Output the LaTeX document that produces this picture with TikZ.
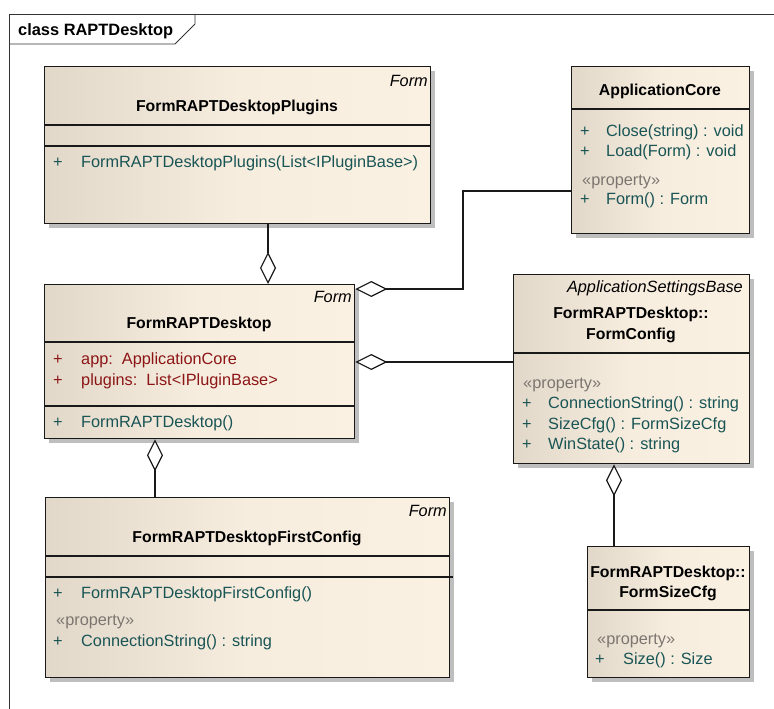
\documentclass[tikz,border=0pt]{standalone}
\usepackage{fontspec}
\setmainfont{Liberation Sans}
\usetikzlibrary{arrows.meta,calc}
\definecolor{opc}{RGB}{25,85,85}
\definecolor{atc}{RGB}{140,22,22}
\definecolor{stc}{RGB}{125,118,112}
\definecolor{fillL}{RGB}{226,216,202}
\definecolor{fillM}{RGB}{247,237,223}
\definecolor{fillR}{RGB}{251,241,227}
\definecolor{shc}{RGB}{190,190,190}
\newcommand\umlfs{\fontsize{16.3}{19}\selectfont}
\newcommand\umlts{\fontsize{15.8}{19}\selectfont}
\newcommand\umlbox[5]{%
  \fill[shc] (#2+5,#3+5) rectangle (#4+5,#5+5);
  \node[classbox, minimum width={(#4-#2)*1pt}, minimum height={(#5-#3)*1pt}] (#1) at (#2,#3) {};}
\begin{document}
\begin{tikzpicture}[x=1pt,y=-1pt,
  classbox/.style={draw=black!90, line width=1.3pt, anchor=north west, inner sep=0pt,
    left color=fillL, right color=fillR, middle color=fillM},
  itm/.style={anchor=base west, inner sep=0pt, font=\umlfs},
  ttl/.style={anchor=base, inner sep=0pt, font=\umlts\bfseries},
  stereo/.style={anchor=base east, inner sep=0pt, font=\umlfs\itshape},
  sep/.style={line width=1.2pt, draw=black!90},
  agg/.style={line width=1.2pt, draw=black!90, -{Diamond[open, length=32pt, width=16pt, line width=1.2pt]}},
  frm/.style={line width=0.9pt, draw=black!80}]
\useasboundingbox (0,0) rectangle (774,709);
% frame
\draw[frm] (9,709) -- (9,14) -- (774,14);
\draw[frm] (9,44) -- (175,44) -- (195,24) -- (195,14);
\node[anchor=base west, inner sep=0pt, font=\fontsize{16.4}{19}\selectfont\bfseries] (frametitle) at (18,35.5) {class RAPTDesktop};

% boxes
\umlbox{plugins}{44}{66}{430}{223}
\umlbox{desk}{44}{284}{354}{438}
\umlbox{appcore}{571}{66}{749}{233}
\umlbox{formconfig}{513}{274}{749}{463}
\umlbox{firstcfg}{45}{497}{449}{677}
\umlbox{sizecfg}{587}{546}{749}{677}

% compartments
\draw[sep] ($(plugins.north west)+(0,59)$) -- ($(plugins.north east)+(0,59)$);
\draw[sep] ($(plugins.north west)+(0,80)$) -- ($(plugins.north east)+(0,80)$);
\draw[sep] ($(desk.north west)+(0,58)$) -- ($(desk.north east)+(0,58)$);
\draw[sep] ($(desk.north west)+(0,122)$) -- ($(desk.north east)+(0,122)$);
\draw[sep] ($(appcore.north west)+(0,43)$) -- ($(appcore.north east)+(0,43)$);
\draw[sep] ($(formconfig.north west)+(0,79)$) -- ($(formconfig.north east)+(0,79)$);
\draw[sep] ($(firstcfg.north west)+(0,59)$) -- ($(firstcfg.north east)+(0,59)$);
\draw[sep] ($(firstcfg.north west)+(0,80)$) -- ($(firstcfg.north east)+(3,80)$);
\draw[sep] ($(sizecfg.north west)+(0,64)$) -- ($(sizecfg.north east)+(0,64)$);

% FormRAPTDesktopPlugins
\node[stereo] (pst) at (428,86) {Form};
\node[ttl] (pttl) at (237,111.5) {FormRAPTDesktopPlugins};
\node[itm,opc] (pm1a) at (53,167.5) {+};
\node[itm,opc] (pm1b) at (81,167.5) {FormRAPTDesktopPlugins(List<IPluginBase>)};

% FormRAPTDesktop
\node[stereo] (dst) at (352,302) {Form};
\node[ttl] (dttl) at (199,328) {FormRAPTDesktop};
\node[itm,atc] (da1a) at (53,364.5) {+};
\node[itm,atc] (da1b) at (81,364.5) {app:\ \ ApplicationCore};
\node[itm,atc] (da2a) at (53,385.5) {+};
\node[itm,atc] (da2b) at (81,385.5) {plugins:\ \ List<IPluginBase>};
\node[itm,opc] (dm1a) at (53,427.5) {+};
\node[itm,opc] (dm1b) at (81,427.5) {FormRAPTDesktop()};

% ApplicationCore
\node[ttl] (attl) at (660,95.5) {ApplicationCore};
\node[itm,opc] (am1a) at (580,136.5) {+};
\node[itm,opc] (am1b) at (606,136.5) {Close(string) : void};
\node[itm,opc] (am2a) at (580,156.5) {+};
\node[itm,opc] (am2b) at (606,156.5) {Load(Form) : void};
\node[itm,stc] (aprop) at (582,185.5) {«property»};
\node[itm,opc] (am3a) at (580,204.5) {+};
\node[itm,opc] (am3b) at (606,204.5) {Form() : Form};

% FormConfig
\node[stereo] (cst) at (743,292) {ApplicationSettingsBase};
\node[ttl] (cttl1) at (631,318.5) {FormRAPTDesktop::};
\node[ttl] (cttl2) at (631,339.5) {FormConfig};
\node[itm,stc] (cprop) at (523,388.5) {«property»};
\node[itm,opc] (cm1a) at (522,408.5) {+};
\node[itm,opc] (cm1b) at (548,408.5) {ConnectionString() : string};
\node[itm,opc] (cm2a) at (522,429.5) {+};
\node[itm,opc] (cm2b) at (548,429.5) {SizeCfg() : FormSizeCfg};
\node[itm,opc] (cm3a) at (522,449.5) {+};
\node[itm,opc] (cm3b) at (548,449.5) {WinState() : string};

% FormRAPTDesktopFirstConfig
\node[stereo] (fst) at (447,516) {Form};
\node[ttl] (fttl) at (247,542.5) {FormRAPTDesktopFirstConfig};
\node[itm,opc] (fm1a) at (53,598.5) {+};
\node[itm,opc] (fm1b) at (81,598.5) {FormRAPTDesktopFirstConfig()};
\node[itm,stc] (fprop) at (56,625.5) {«property»};
\node[itm,opc] (fm2a) at (53,646.5) {+};
\node[itm,opc] (fm2b) at (81,646.5) {ConnectionString() : string};

% FormSizeCfg
\node[ttl] (sttl1) at (668,577.5) {FormRAPTDesktop::};
\node[ttl] (sttl2) at (668,597.5) {FormSizeCfg};
\node[itm,stc] (sprop) at (597,644.5) {«property»};
\node[itm,opc] (sm1a) at (595,664.5) {+};
\node[itm,opc] (sm1b) at (623,664.5) {Size() : Size};

% connectors
\coordinate (x268) at (268,0);
\coordinate (x155) at (155,0);
\coordinate (x614) at (614,0);
\coordinate (y191) at (0,191);
\coordinate (y289) at (0,289);
\coordinate (y362) at (0,362);
\coordinate (bendA) at (463,191);
\coordinate (bendB) at (463,289);
\draw[agg] (plugins.south -| x268) -- (desk.north -| x268);
\draw[agg] (appcore.west |- y191) -- (bendA) -- (bendB) -- (desk.east |- y289);
\draw[agg] (formconfig.west |- y362) -- (desk.east |- y362);
\draw[agg] (firstcfg.north -| x155) -- (desk.south -| x155);
\draw[agg] (sizecfg.north -| x614) -- (formconfig.south -| x614);
\end{tikzpicture}
\end{document}
